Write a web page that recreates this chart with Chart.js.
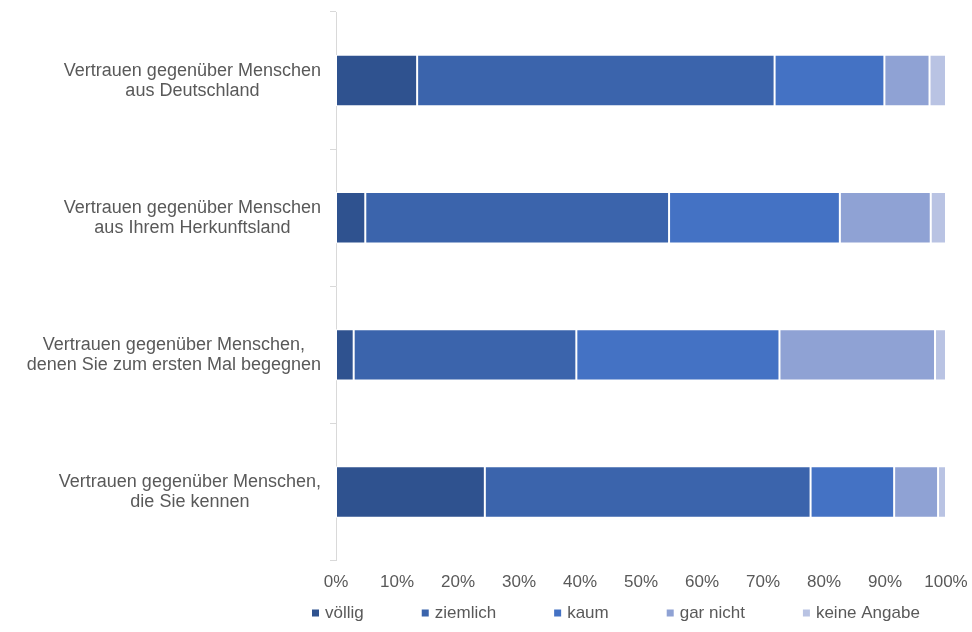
<!DOCTYPE html>
<html lang="de">
<head>
<meta charset="utf-8">
<title>Vertrauen</title>
<script src="https://cdn.jsdelivr.net/npm/chart.js@4"></script>
<style>
    html, body { margin: 0; padding: 0; background: #ffffff; }
    #wrap { width: 972px; height: 632px; }
</style>
</head>
<body>
<div id="wrap"><canvas id="trust-chart" width="972" height="632"></canvas></div>
<script>
// Categories (two-line labels) and stacked shares in percent
const categories = [
    ['Vertrauen gegenüber Menschen', 'aus Deutschland'],
    ['Vertrauen gegenüber Menschen', 'aus Ihrem Herkunftsland'],
    ['Vertrauen gegenüber Menschen,', 'denen Sie zum ersten Mal begegnen'],
    ['Vertrauen gegenüber Menschen,', 'die Sie kennen']
];
const seriesNames = ['völlig', 'ziemlich', 'kaum', 'gar nicht', 'keine Angabe'];
const voellig = [13.3, 4.8, 2.9, 24.4];
const ziemlich = [58.6, 49.8, 36.5, 53.4];
const kaum = [18.0, 28.0, 33.3, 13.7];
const garNicht = [7.4, 14.9, 25.5, 7.2];
const keineAngabe = [2.7, 2.5, 1.8, 1.3];
const xTickValues = [0, 10, 20, 30, 40, 50, 60, 70, 80, 90, 100];

const colors = ['#2F528F', '#3B64AC', '#4472C4', '#8FA2D4', '#B9C3E3'];
const textColor = '#595959';
const fontFamily = "'Liberation Sans', Arial, sans-serif";

const seriesValues = [voellig, ziemlich, kaum, garNicht, keineAngabe];

// y labels: block right aligned, lines centered (like the office chart)
const categoryLabels = {
    id: 'categoryLabels',
    afterDraw(chart) {
        const ctx = chart.ctx;
        const yScale = chart.scales.y;
        const right = chart.chartArea.left - 15;
        ctx.save();
        ctx.font = '18px ' + fontFamily;
        ctx.fillStyle = textColor;
        ctx.textAlign = 'center';
        ctx.textBaseline = 'middle';
        chart.data.labels.forEach((lines, i) => {
            const y = yScale.getPixelForValue(i);
            const maxW = Math.max(...lines.map((l) => ctx.measureText(l).width));
            const cx = right - maxW / 2;
            lines.forEach((line, j) => {
                ctx.fillText(line, cx, y + (j - (lines.length - 1) / 2) * 20);
            });
        });
        ctx.restore();
    }
};

// legend row under the axis
const bottomLegend = {
    id: 'bottomLegend',
    afterDraw(chart) {
        const ctx = chart.ctx;
        let x = chart.chartArea.left - 24;
        const y = 613;
        ctx.save();
        ctx.font = '17px ' + fontFamily;
        ctx.textBaseline = 'middle';
        ctx.textAlign = 'left';
        chart.data.datasets.forEach((ds) => {
            ctx.fillStyle = ds.backgroundColor;
            ctx.fillRect(x, y - 3.5, 7, 7);
            x += 13;
            ctx.fillStyle = textColor;
            ctx.fillText(ds.label, x, y);
            x += ctx.measureText(ds.label).width + 58;
        });
        ctx.restore();
    }
};

new Chart(document.getElementById('trust-chart'), {
    type: 'bar',
    data: {
        labels: categories,
        datasets: seriesNames.map((name, i) => ({
            label: name,
            data: seriesValues[i],
            backgroundColor: colors[i],
            borderColor: '#ffffff',
            borderWidth: 1,
            borderSkipped: false,
            barPercentage: 0.375,
            categoryPercentage: 1
        }))
    },
    options: {
        indexAxis: 'y',
        responsive: false,
        animation: false,
        layout: { padding: { top: 12, right: 0, bottom: 27, left: 0 } },
        scales: {
            x: {
                stacked: true,
                min: 0,
                max: 100,
                afterBuildTicks: (scale) => {
                    scale.ticks = xTickValues.map((v) => ({ value: v }));
                },
                ticks: {
                    color: textColor,
                    font: { family: fontFamily, size: 17 },
                    padding: 12,
                    callback: (v) => v + '%'
                },
                grid: { display: false, drawTicks: false },
                border: { display: false },
                afterFit: (scale) => { scale.paddingRight = 26; }
            },
            y: {
                stacked: true,
                ticks: { display: false },
                grid: {
                    display: true,
                    offset: true,
                    drawOnChartArea: false,
                    drawTicks: true,
                    tickLength: 6,
                    color: '#d9d9d9'
                },
                border: { display: true, color: '#d9d9d9' },
                afterFit: (scale) => { scale.width = 336; }
            }
        },
        plugins: {
            legend: { display: false },
            tooltip: { enabled: false }
        }
    },
    plugins: [categoryLabels, bottomLegend]
});
</script>
</body>
</html>
